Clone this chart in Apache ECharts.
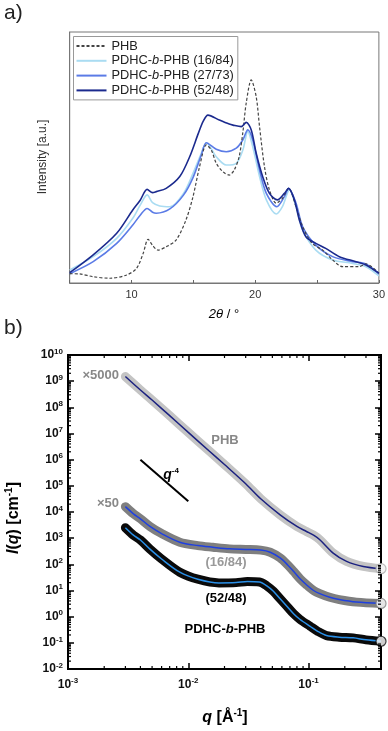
<!DOCTYPE html>
<html>
<head>
<meta charset="utf-8">
<script src="https://cdn.jsdelivr.net/npm/echarts@6.0.0/dist/echarts.min.js"></script>
<style>html,body{margin:0;padding:0;background:#fff}#chart{width:388px;height:731px}</style>
</head>
<body>
<div id="chart"></div>
<script>
// ---- panel a : XRD, [2theta, intensity a.u.]
var xrdPhb = [[5,3.7],[5.8,3.6],[6.9,2.5],[8.25,1.9],[9.6,3.2],[10.4,5.8],[10.94,11.8],[11.34,17.4],[11.7,15],[12.14,13.1],[12.82,14.5],[13.6,17.1],[14.4,25.1],[14.97,34.4],[15.5,46.3],[16.05,55],[16.45,53],[16.85,47.7],[17.4,44.3],[17.9,43],[18.3,45],[18.7,50.3],[19.0,60],[19.27,71.6],[19.68,80.9],[20.08,74.2],[20.35,62.3],[20.75,46.3],[21.15,37.1],[21.7,31.8],[22.2,33.7],[22.7,37.7],[23.3,30.4],[23.84,22.4],[24.6,15.8],[25.45,13.1],[26.26,9.2],[27.06,6.5],[28.4,6.5],[28.95,7.6],[30,3.9]];
var xrd1684 = [[5,5.2],[6.9,10.5],[8.8,17.8],[10.1,25.8],[10.7,31],[11.26,35.1],[11.7,32],[12.28,30.7],[13.1,30.4],[14.2,35.7],[14.97,43.7],[15.64,51.7],[16.05,55.9],[16.85,50.3],[17.66,47],[18.47,47.7],[19.0,53],[19.4,60.3],[19.8,54.3],[20.35,42.4],[20.9,33.1],[21.7,27.5],[22.2,30.4],[22.77,37.1],[23.3,30.4],[23.84,21.1],[24.9,13.1],[26.26,9.2],[27.87,7.8],[28.95,6.5],[30,2.8]];
var xrd2773 = [[5,3.7],[6.9,8.5],[8.8,15.8],[10.1,23.1],[10.7,27],[11.26,29.7],[11.7,28.2],[12.0,27.8],[13.1,29.5],[14.2,35],[14.97,42],[15.64,51],[16.05,55.9],[16.85,53.3],[17.66,52.3],[18.47,53.7],[19.0,57],[19.4,61],[19.8,57],[20.35,45],[20.9,35.7],[21.75,30.4],[22.36,34.4],[22.7,37.7],[23.3,31.8],[23.84,22.4],[24.9,15.1],[26.26,10.5],[27.87,8.5],[28.95,7.6],[30,3.6]];
var xrd5248 = [[5,4.1],[6.9,11.2],[8.8,19.8],[10.1,29.1],[10.7,33],[11.26,37.3],[11.7,36],[12.0,36.4],[12.8,37.7],[13.9,42.4],[14.7,50.3],[15.4,59.6],[15.8,64.5],[16.18,66.9],[17.1,64.9],[17.9,63.3],[18.2,62.9],[18.87,62.3],[19.27,64],[19.68,61],[20.08,51.7],[20.6,42.4],[21.15,35.7],[21.8,33.1],[22.36,35.7],[22.7,37.7],[23.17,33.1],[23.57,25.1],[24.1,18.4],[24.9,15.8],[25.7,13.8],[26.8,10.5],[28.15,8.5],[28.95,7.2],[30,3.9]];
var xrdNames = ['PHB', 'PDHC-b-PHB (16/84)', 'PDHC-b-PHB (27/73)', 'PDHC-b-PHB (52/48)'];
var xrdTicks = [10, 20, 30];

// ---- panel b : SAXS, [q (1/A), I (1/cm)]
var saxsPhb = [[0.003,1.5e9],[0.004,4.6e8],[0.005,1.9e8],[0.007,4.8e7],[0.01,1.1e7],[0.015,2.1e6],[0.02,6.5e5],[0.03,1.2e5],[0.04,3.2e4],[0.058,7.8e3],[0.08,2.8e3],[0.096,1.8e3],[0.11,1.3e3],[0.124,870],[0.16,270],[0.207,130],[0.285,83],[0.4,68]];
var saxs1684 = [[0.003,1.6e4],[0.0035,8.5e3],[0.004,5.5e3],[0.0048,2.8e3],[0.006,1.5e3],[0.0085,700],[0.012,520],[0.016,450],[0.022,390],[0.03,370],[0.04,350],[0.048,290],[0.058,175],[0.067,95],[0.075,54],[0.085,28],[0.096,16.6],[0.11,10],[0.124,7.6],[0.15,5.5],[0.18,4.5],[0.25,3.6],[0.4,3.2]];
var saxs5248 = [[0.003,2.5e3],[0.0035,1.3e3],[0.004,850],[0.0048,380],[0.006,160],[0.0085,50],[0.012,27],[0.018,19.5],[0.025,20],[0.031,22],[0.039,21],[0.045,15],[0.051,9.3],[0.058,4.8],[0.066,2.5],[0.075,1.3],[0.085,0.78],[0.103,0.43],[0.12,0.27],[0.141,0.19],[0.18,0.165],[0.235,0.155],[0.3,0.13],[0.4,0.115]];
var slopeLine = [[0.004,1e6],[0.01,2.56e4]];
var qMinorTicks = [0.002,0.003,0.004,0.005,0.006,0.007,0.008,0.009,0.02,0.03,0.04,0.05,0.06,0.07,0.08,0.09,0.2,0.3,0.4];
var iMinorTicks = [];
for (var e = -2; e < 10; e++) for (var m = 2; m <= 9; m++) iMinorTicks.push(m * Math.pow(10, e));

var sans = 'Liberation Sans, Arial, sans-serif';

var chart = echarts.init(document.getElementById('chart'), null, { renderer: 'canvas' });

function xrdLabel(n) {
	if (n === 'PHB') return '{n|PHB}';
	var p = n.split('-b-');
	return '{n|' + p[0] + '-}{i|b}{n|-' + p[1] + '}';
}
function powLabel(v) {
	var l = Math.log10(v), e = Math.round(l);
	if (Math.abs(l - e) > 1e-6) return '';
	return '{b|10}{s|' + e + '}';
}
var powRich = {
	b: { fontSize: 12, fontWeight: 'bold', fontFamily: sans, color: '#111' },
	s: { fontSize: 8, fontWeight: 'bold', fontFamily: sans, color: '#111', padding: [0, 0, 7, 0], verticalAlign: 'bottom' }
};

function tickLines(list) {
	return {
		type: 'group',
		children: list.map(function (s) {
			return { type: 'line', shape: { x1: s[0], y1: s[1], x2: s[2], y2: s[3] }, style: { stroke: '#000', lineWidth: 1.2 } };
		})
	};
}
function qMinorItem(params, api) {
	var v = api.value(0), L = 3;
	var a = api.coord([v, 1e-2]), b = api.coord([v, 1e10]);
	return tickLines([[a[0], a[1], a[0], a[1] - L], [b[0], b[1], b[0], b[1] + L]]);
}
function iMinorItem(params, api) {
	var v = api.value(1), L = 3;
	var c = api.coord([1e-3, v]), d = api.coord([0.4, v]);
	return tickLines([[c[0], c[1], c[0] + L, c[1]], [d[0], d[1], d[0] - L, d[1]]]);
}

var xrdColors = ['#444444', '#aadcf2', '#5b7be6', '#1b2a8e'];
var xrdData = [xrdPhb, xrd1684, xrd2773, xrd5248];
var series = [];
xrdData.forEach(function (d, k) {
	series.push({
		name: xrdNames[k], type: 'line', xAxisIndex: 0, yAxisIndex: 0,
		data: d, smooth: 0.3, showSymbol: false, symbol: 'none',
		lineStyle: { color: xrdColors[k], width: k === 0 ? 1.2 : 1.6, type: k === 0 ? [3, 2] : 'solid' },
		itemStyle: { color: xrdColors[k] },
		z: k === 0 ? 6 : 3 + k
	});
});

var bandColors = ['#c4c4c4', '#7f7f7f', '#0a0a0a'];
var fitColors = ['#1b2180', '#1f40e0', '#2a90e8'];
var saxsData = [saxsPhb, saxs1684, saxs5248];
saxsData.forEach(function (d, k) {
	series.push({
		type: 'line', xAxisIndex: 1, yAxisIndex: 1, data: d, smooth: 0.3, symbol: 'none',
		lineStyle: { color: bandColors[k], width: 9, cap: 'round', join: 'round' }, z: 2
	});
});
saxsData.forEach(function (d, k) {
	series.push({
		type: 'line', xAxisIndex: 1, yAxisIndex: 1, data: d, smooth: 0.3, symbol: 'none',
		lineStyle: { color: fitColors[k], width: 1.5 }, z: 3
	});
});
series.push({
	type: 'scatter', xAxisIndex: 1, yAxisIndex: 1, clip: false, symbolSize: 10, z: 4,
	data: saxsData.map(function (d, k) {
		return { value: d[d.length - 1], itemStyle: { color: '#fff', borderColor: k === 0 ? '#aaa' : bandColors[k], borderWidth: 1.2 } };
	})
});
series.push({
	type: 'line', xAxisIndex: 1, yAxisIndex: 1, data: slopeLine, symbol: 'none',
	lineStyle: { color: '#000', width: 2 }, z: 3
});
series.push({ type: 'custom', xAxisIndex: 1, yAxisIndex: 1, data: qMinorTicks.map(function (v) { return [v, 1]; }), renderItem: qMinorItem, z: 10, silent: true });
series.push({ type: 'custom', xAxisIndex: 1, yAxisIndex: 1, data: iMinorTicks.map(function (v) { return [0.01, v]; }), renderItem: iMinorItem, z: 10, silent: true });

var txt = function (x, y, text, opt) {
	opt = opt || {};
	return {
		type: 'text', x: x, y: y, rotation: opt.rotation || 0, z: 100,
		style: {
			text: text, font: opt.font || ('bold 13px ' + sans), fill: opt.color || '#000',
			textAlign: opt.align || 'center', textVerticalAlign: 'middle', rich: opt.rich
		}
	};
};
var supRich = function (size, sup, lift) {
	return {
		i: { fontSize: size, fontWeight: 'bold', fontStyle: 'italic', fontFamily: sans, color: '#000' },
		n: { fontSize: size, fontWeight: 'bold', fontFamily: sans, color: '#000' },
		s: { fontSize: sup, fontWeight: 'bold', fontFamily: sans, color: '#000', padding: [0, 0, lift, 0], verticalAlign: 'bottom' }
	};
};

var option = {
	animation: false,
	backgroundColor: '#fff',
	grid: [
		{ left: 69.7, right: 8, top: 32, bottom: 448, show: true, borderColor: '#777', borderWidth: 1 },
		{ left: 68, right: 7, top: 355, bottom: 62, show: true, borderColor: '#000', borderWidth: 2 }
	],
	legend: {
		data: xrdNames, orient: 'vertical', left: 73.5, top: 36.5, itemWidth: 30, itemHeight: 12, itemGap: 1.8,
		padding: [3, 4, 3, 2], borderColor: '#999', borderWidth: 1, backgroundColor: '#fff',
		itemStyle: { opacity: 0 },
		formatter: xrdLabel,
		textStyle: {
			fontSize: 12, fontFamily: sans, color: '#222',
			rich: { n: { fontSize: 12.8, fontFamily: sans, color: '#222' }, i: { fontSize: 12.8, fontFamily: sans, fontStyle: 'italic', color: '#222' } }
		}
	},
	xAxis: [
		{
			type: 'value', gridIndex: 0, min: 5, max: 30, interval: 5,
			axisLine: { lineStyle: { color: '#777' } },
			axisTick: { inside: true, length: 3, lineStyle: { color: '#666' } },
			axisLabel: { fontSize: 11, fontFamily: sans, color: '#333', margin: 6, formatter: function (v) { return xrdTicks.indexOf(v) >= 0 ? String(v) : ''; } },
			splitLine: { show: false }
		},
		{
			type: 'log', logBase: 10, gridIndex: 1, min: 1e-3, max: 0.4,
			axisLine: { lineStyle: { color: '#000', width: 2 } },
			axisTick: { inside: true, length: 6, lineStyle: { color: '#000', width: 1.5 } },
			axisLabel: { formatter: powLabel, rich: powRich, margin: 8, showMaxLabel: false },
			splitLine: { show: false }
		},
		{
			type: 'log', logBase: 10, gridIndex: 1, min: 1e-3, max: 0.4, position: 'top',
			axisLine: { lineStyle: { color: '#000', width: 2 } },
			axisTick: { inside: true, length: 6, lineStyle: { color: '#000', width: 1.5 } },
			axisLabel: { show: false }, splitLine: { show: false }
		}
	],
	yAxis: [
		{
			type: 'value', gridIndex: 0, min: 0, max: 100,
			axisLine: { show: true, lineStyle: { color: '#777' } },
			axisTick: { show: false }, axisLabel: { show: false }, splitLine: { show: false }
		},
		{
			type: 'log', logBase: 10, gridIndex: 1, min: 1e-2, max: 1e10, interval: 1,
			axisLine: { lineStyle: { color: '#000', width: 2 } },
			axisTick: { inside: true, length: 6, lineStyle: { color: '#000', width: 1.5 } },
			axisLabel: { formatter: powLabel, rich: powRich, margin: 5 },
			splitLine: { show: false }
		},
		{
			type: 'log', logBase: 10, gridIndex: 1, min: 1e-2, max: 1e10, interval: 1, position: 'right',
			axisLine: { lineStyle: { color: '#000', width: 2 } },
			axisTick: { inside: true, length: 6, lineStyle: { color: '#000', width: 1.5 } },
			axisLabel: { show: false }, splitLine: { show: false }
		}
	],
	series: series,
	graphic: [
		txt(4, 13, 'a)', { font: '21px ' + sans, color: '#222', align: 'left' }),
		txt(4, 328, 'b)', { font: '21px ' + sans, color: '#222', align: 'left' }),
		txt(43, 157, 'Intensity [a.u.]', { font: '12px ' + sans, color: '#333', rotation: Math.PI / 2 }),
		txt(224, 314, '{i|2θ} {n|/ °}', { rich: { i: { fontSize: 13, fontStyle: 'italic', fontFamily: sans, color: '#333' }, n: { fontSize: 13, fontFamily: sans, color: '#333' } } }),
		txt(225, 718, '{i|q}{n| [Å}{s|-1}{n|]}', { rich: supRich(16, 10, 9) }),
		txt(14, 518, '{i|I}{n|(}{i|q}{n|) [cm}{s|-1}{n|]}', { rotation: Math.PI / 2, rich: supRich(16, 10, 9) }),
		txt(119, 375, '×5000', { color: '#888', align: 'right' }),
		txt(119, 503, '×50', { color: '#888', align: 'right' }),
		txt(225, 440, 'PHB', { color: '#888' }),
		txt(171, 475, '{i|q}{s|-4}', { rich: supRich(14, 8, 8) }),
		txt(226, 562, '(16/84)', { color: '#999' }),
		txt(226, 598, '(52/48)', { color: '#000' }),
		txt(225, 629, '{n|PDHC-}{i|b}{n|-PHB}', { rich: supRich(13, 8, 0) })
	]
};
chart.setOption(option);
</script>
</body>
</html>
